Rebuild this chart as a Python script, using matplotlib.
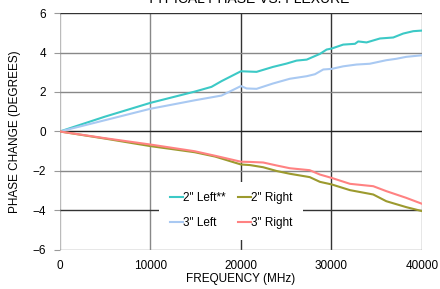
import matplotlib
matplotlib.use("Agg")
import matplotlib.pyplot as plt

plt.rcParams['font.family'] = ['Liberation Sans', 'DejaVu Sans']

# 2" Left**
x_2l = [0, 4970, 10000, 14900, 16750, 17860, 20000, 21730, 23540, 25050, 26150, 27270,
        28730, 29470, 30020, 31300, 32600, 32960, 33880, 35360, 36830, 37930, 39040, 40000]
y_2l = [0, 0.75, 1.45, 2.02, 2.26, 2.55, 3.05, 3.02, 3.27, 3.44, 3.59, 3.64,
        3.93, 4.15, 4.2, 4.4, 4.44, 4.56, 4.51, 4.71, 4.76, 4.96, 5.08, 5.11]
# 3" Left
x_3l = [0, 4970, 10000, 14900, 17860, 20000, 20630, 21730, 23540, 25400, 27270, 28180,
        29100, 30020, 31300, 32760, 34230, 36060, 37150, 38260, 40000]
y_3l = [0, 0.57, 1.15, 1.58, 1.82, 2.3, 2.18, 2.16, 2.43, 2.67, 2.8, 2.9,
        3.14, 3.17, 3.3, 3.39, 3.43, 3.61, 3.68, 3.78, 3.86]
# 2" Right
x_2r = [0, 5000, 10000, 14900, 17160, 20000, 20990, 22460, 23940, 25400, 27600, 28730,
        30020, 32050, 34620, 36060, 38260, 40000]
y_2r = [0, -0.36, -0.74, -1.05, -1.27, -1.67, -1.70, -1.81, -2.0, -2.14, -2.31, -2.55,
        -2.68, -2.97, -3.19, -3.53, -3.83, -4.03]
# 3" Right
x_3r = [0, 5000, 10000, 14900, 17160, 20000, 20990, 22460, 23940, 25400, 27600, 28730,
        30020, 32050, 34620, 36060, 38260, 40000]
y_3r = [0, -0.34, -0.66, -1.0, -1.23, -1.53, -1.54, -1.57, -1.72, -1.86, -1.96, -2.18,
        -2.35, -2.65, -2.77, -3.02, -3.36, -3.66]

x_ticks = [0, 10000, 20000, 30000, 40000]
y_ticks = [-6, -4, -2, 0, 2, 4, 6]

fig = plt.figure(figsize=(4.4, 2.89), dpi=100)
ax = fig.add_axes([0.136, 0.135, 0.823, 0.82])

ax.plot(x_2l, y_2l, color='#3cc9c6', lw=1.5, label='2" Left**')
ax.plot(x_3l, y_3l, color='#a9c9f2', lw=1.5, label='3" Left')
ax.plot(x_2r, y_2r, color='#9c9a2e', lw=1.5, label='2" Right')
ax.plot(x_3r, y_3r, color='#ff8282', lw=1.5, label='3" Right')

ax.set_xlim(0, 40000)
ax.set_ylim(-6, 6)
ax.set_xticks(x_ticks)
ax.set_yticks(y_ticks)
ax.grid(True, lw=1.0)
xg_colors = ['#bbbbbb', '#888888', '#333333', '#333333', '#888888']
yg_colors = ['#888888', '#333333', '#888888', '#222222', '#888888', '#888888', '#333333']
for gl, c in zip(ax.get_xgridlines(), xg_colors):
    gl.set_color(c)
for gl, c in zip(ax.get_ygridlines(), yg_colors):
    gl.set_color(c)
ax.set_axisbelow(True)
for s in ax.spines.values():
    s.set_visible(False)

ax.tick_params(axis='y', length=4, color='#999999', labelsize=8.5, pad=6)
ax.tick_params(axis='x', length=0, labelsize=8.5, pad=7)

ax.set_xlabel('FREQUENCY (MHz)', fontsize=8.5, labelpad=1)
ax.set_ylabel('PHASE CHANGE (DEGREES)', fontsize=8.5, labelpad=8)

fig.text(0.563, 1 - 3/289, 'TYPICAL PHASE VS. FLEXURE', ha='center', va='baseline', fontsize=10)

leg = ax.legend(loc='center', bbox_to_anchor=(0.473, 0.165), ncol=2, frameon=True,
                fontsize=8.5, handlelength=1.1, handletextpad=0.0, columnspacing=1.1,
                labelspacing=1.1, borderpad=0.9, fancybox=False)
leg.get_frame().set_facecolor('white')
leg.get_frame().set_edgecolor('none')
leg.get_frame().set_alpha(1)

fig.savefig('out.png', dpi=100)
